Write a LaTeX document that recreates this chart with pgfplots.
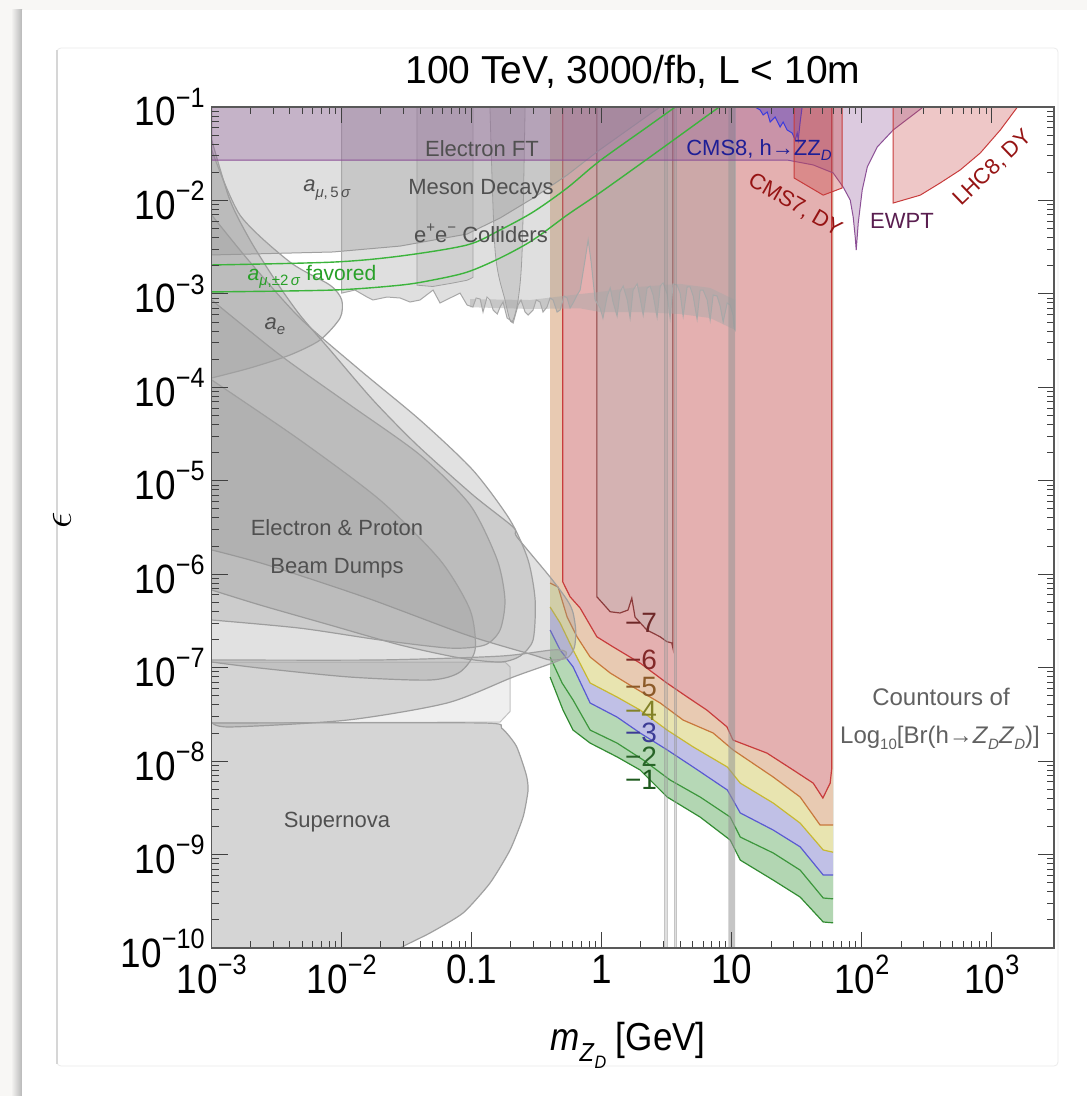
\documentclass[border=0pt]{standalone}
\usepackage{pgfplots}
\usepackage{pgfplotstable}
\pgfplotsset{compat=1.18}
\usepackage{fontspec}
\setmainfont{Liberation Sans}
\newfontfamily\tickfont[FakeStretch=0.9]{Liberation Sans}

\definecolor{bgc}{RGB}{248,247,245}
\definecolor{exgray}{RGB}{150,150,150}
\definecolor{exline}{RGB}{160,160,160}
\definecolor{noisec}{RGB}{168,168,168}
\definecolor{c1fill}{RGB}{178,214,178}
\definecolor{c1line}{RGB}{50,140,50}
\definecolor{c2fill}{RGB}{182,216,182}
\definecolor{c2line}{RGB}{60,150,60}
\definecolor{c3fill}{RGB}{192,192,230}
\definecolor{c3line}{RGB}{90,90,210}
\definecolor{c4fill}{RGB}{232,228,176}
\definecolor{c4line}{RGB}{200,185,50}
\definecolor{c5fill}{RGB}{232,202,178}
\definecolor{c5line}{RGB}{200,120,60}
\definecolor{c6fill}{RGB}{228,176,176}
\definecolor{c6line}{RGB}{200,60,60}
\definecolor{c7fill}{RGB}{212,178,178}
\definecolor{c7line}{RGB}{140,60,60}
\definecolor{ewpt}{RGB}{140,80,150}
\definecolor{cmsfill}{RGB}{100,80,200}
\definecolor{cmsblue}{RGB}{60,60,220}
\definecolor{dyfill}{RGB}{200,70,70}
\definecolor{amugreen}{RGB}{60,180,60}
\definecolor{labgray}{RGB}{80,80,80}
\definecolor{amutext}{RGB}{40,160,40}
\definecolor{cmstext}{RGB}{30,30,150}
\definecolor{dyred}{RGB}{150,20,20}
\definecolor{ewtext}{RGB}{90,30,80}

\newcommand\sups[1]{\raisebox{0.46em}{\fontsize{14}{14}\selectfont#1}}
\newcommand\supsm[1]{\raisebox{0.45em}{\fontsize{7.5}{8}\selectfont#1}}
\newcommand\subsm[1]{\raisebox{-0.25em}{\fontsize{7.5}{8}\selectfont#1}}

% contour lines Log10[Br] = -1 ... -5
\pgfplotstableread{
x y
0.400 7.94e-8
0.503 3.52e-8
0.601 2.15e-8
0.813 1.56e-8
1.31 1.11e-8
1.97 8.04e-9
3.18 4.13e-9
5.70 2.52e-9
9.71 1.43e-9
11.6 8.73e-10
20.8 5.33e-10
33.5 3.51e-10
50.4 1.90e-10
60 1.86e-10
}\cA
\pgfplotstableread{
x y
0.400 1.30e-7
0.495 6.86e-8
0.601 4.51e-8
0.813 2.15e-8
1.31 1.56e-8
2.08 1.03e-8
3.35 6.28e-9
5.70 4.13e-9
9.71 2.52e-9
11.6 1.54e-9
20.8 1.04e-9
33.5 6.82e-10
50.4 3.43e-10
60 3.36e-10
}\cB
\pgfplotstableread{
x y
0.400 2.53e-7
0.478 1.55e-7
0.601 1.02e-7
0.813 4.19e-8
1.31 2.96e-8
1.97 2.00e-8
3.18 1.32e-8
5.04 8.65e-9
9.23 4.91e-9
11.6 2.79e-9
20.8 1.83e-9
33.5 1.21e-9
50.4 6.04e-10
60 6.04e-10
}\cC
\pgfplotstableread{
x y
0.400 4.46e-7
0.478 3.01e-7
0.601 1.55e-7
0.813 6.86e-8
1.31 4.85e-8
1.97 3.52e-8
3.18 2.15e-8
5.04 1.42e-8
9.23 8.65e-9
11.6 5.82e-9
20.8 3.56e-9
33.5 2.17e-9
50.4 1.12e-9
60 1.06e-9
}\cD
\pgfplotstableread{
x y
0.400 8.05e-7
0.461 7.30e-7
0.541 3.48e-7
0.646 2.13e-7
0.813 1.30e-7
1.16 8.77e-8
1.74 6.21e-8
2.81 4.19e-8
4.22 2.75e-8
7.18 2.00e-8
10.2 1.32e-8
20.8 6.76e-9
33.5 4.13e-9
47.7 2.07e-9
60 2.07e-9
}\cE

\begin{document}
\begin{tikzpicture}
\begin{scope}[x=0.5pt,y=-0.5pt]
\path[use as bounding box] (0,0) rectangle (1087,1096);
\fill[bgc] (0,0) rectangle (1087,1096);
\shade[left color=bgc, right color=black!28] (11,10) rectangle (22,1096);
\fill[white] (22,10) rectangle (1087,1096);
\draw[black!8, fill=white, rounded corners=2pt] (57,48) rectangle (1058,1066);
\draw[black!16, line width=0.7pt] (57,50) -- (57,1064);
\end{scope}

\begin{axis}[
  at={(105.85pt,-474pt)}, anchor=south west,
  scale only axis, width=421.15pt, height=420.5pt,
  xmode=log, ymode=log,
  xmin=1e-3, xmax=3000, ymin=1e-10, ymax=0.1,
  xtickten={-3,-2,-1,0,1,2,3},
  ytickten={-10,-9,-8,-7,-6,-5,-4,-3,-2,-1},
  xticklabels={10\sups{−3},10\sups{−2},0.1,1,10,10\sups{2},10\sups{3}},
  yticklabels={10\sups{−10},10\sups{−9},10\sups{−8},10\sups{−7},10\sups{−6},10\sups{−5},10\sups{−4},10\sups{−3},10\sups{−2},10\sups{−1}},
  axis on top,
  axis line style={black!65, line width=0.6pt},
  tick style={black!75, line width=0.5pt},
  major tick length=8pt, minor tick length=3.5pt,
  tick label style={font=\tickfont\fontsize{20.5}{24}\selectfont, text=black},
]
% ---- contour bands (area above each contour)
\addplot[fill=c1fill, draw=none] coordinates {(0.4,0.1)
(0.400,7.94e-8) (0.503,3.52e-8) (0.601,2.15e-8) (0.813,1.56e-8) (1.31,1.11e-8) (1.97,8.04e-9)
(3.18,4.13e-9) (5.70,2.52e-9) (9.71,1.43e-9) (11.6,8.73e-10) (20.8,5.33e-10) (33.5,3.51e-10)
(50.4,1.90e-10) (60,1.86e-10) (60,0.1)};
\addplot[fill=c2fill, draw=none] coordinates {(0.4,0.1)
(0.400,1.30e-7) (0.495,6.86e-8) (0.601,4.51e-8) (0.813,2.15e-8) (1.31,1.56e-8) (2.08,1.03e-8)
(3.35,6.28e-9) (5.70,4.13e-9) (9.71,2.52e-9) (11.6,1.54e-9) (20.8,1.04e-9) (33.5,6.82e-10)
(50.4,3.43e-10) (60,3.36e-10) (60,0.1)};
\addplot[fill=c3fill, draw=none] coordinates {(0.4,0.1)
(0.400,2.53e-7) (0.478,1.55e-7) (0.601,1.02e-7) (0.813,4.19e-8) (1.31,2.96e-8) (1.97,2.00e-8)
(3.18,1.32e-8) (5.04,8.65e-9) (9.23,4.91e-9) (11.6,2.79e-9) (20.8,1.83e-9) (33.5,1.21e-9)
(50.4,6.04e-10) (60,6.04e-10) (60,0.1)};
\addplot[fill=c4fill, draw=none] coordinates {(0.4,0.1)
(0.400,4.46e-7) (0.478,3.01e-7) (0.601,1.55e-7) (0.813,6.86e-8) (1.31,4.85e-8) (1.97,3.52e-8)
(3.18,2.15e-8) (5.04,1.42e-8) (9.23,8.65e-9) (11.6,5.82e-9) (20.8,3.56e-9) (33.5,2.17e-9)
(50.4,1.12e-9) (60,1.06e-9) (60,0.1)};
\addplot[fill=c5fill, draw=none] coordinates {(0.4,0.1)
(0.400,8.05e-7) (0.461,7.30e-7) (0.541,3.48e-7) (0.646,2.13e-7) (0.813,1.30e-7) (1.16,8.77e-8)
(1.74,6.21e-8) (2.81,4.19e-8) (4.22,2.75e-8) (7.18,2.00e-8) (10.2,1.32e-8) (20.8,6.76e-9)
(33.5,4.13e-9) (47.7,2.07e-9) (60,2.07e-9) (60,0.1)};
\addplot[c1line, line width=0.6pt] table {\cA};
\addplot[c2line, line width=0.6pt] table {\cB};
\addplot[c3line, line width=0.6pt] table {\cC};
\addplot[c4line, line width=0.6pt] table {\cD};
\addplot[c5line, line width=0.6pt] table {\cE};
% -6 contour
\addplot[fill=c6fill, draw=c6line, line width=0.6pt] coordinates {
(0.5,0.1) (0.5,8.32e-7) (0.570,5.74e-7) (0.681,4.35e-7) (0.916,2.14e-7) (1.22,1.67e-7)
(1.97,1.12e-7) (3.16,6.86e-8) (4.51,4.89e-8) (6.42,3.52e-8) (9.16,2.33e-8) (10.2,1.68e-8)
(18.6,1.22e-8) (29.6,8.04e-9) (42.2,5.82e-9) (50.1,4.03e-9) (57.0,5.82e-9) (58.7,8.5e-9) (58.7,0.1)};
% -7 contour
\addplot[fill=c7fill, draw=c7line, line width=0.6pt] coordinates {
(0.916,0.1) (0.916,5.74e-7) (1.16,3.97e-7) (1.38,3.85e-7) (1.59,4.14e-7) (1.70,5.56e-7)
(1.80,3.48e-7) (2.22,2.53e-7) (2.81,2.14e-7) (3.16,1.90e-7) (3.45,1.84e-7) (3.52,1.62e-7) (3.52,0.1)};

% ---- a_mu 5 sigma
\addplot[fill=exgray, fill opacity=0.3, draw=exline, line width=0.5pt] coordinates {
(1e-3,0.1) (1e-3,2.61e-3) (8.57e-3,2.81e-3) (0.0281,3.25e-3) (0.092,4.37e-3) (0.165,6.49e-3)
(0.296,0.0106) (0.541,0.0187) (0.96,0.0347) (2.35,0.0842) (2.81,0.1)};
% ---- meson decays / e+e- colliders
\addplot[fill=exgray, fill opacity=0.3, draw=noisec, line width=0.5pt] coordinates {
(0.01,0.1) (0.01,1.02e-3) (0.01265,1.10e-3) (0.01566,9.26e-4) (0.0174,8.61e-4) (0.0223,9.26e-4)
(0.0281,9.04e-4) (0.0335,8.19e-4) (0.04,8.61e-4) (0.0504,1.10e-3) (0.057,7.99e-4) (0.0681,9.04e-4)
(0.0813,1.02e-3) (0.092,7.61e-4) (0.102,7.24e-4) (0.108,9.04e-4) (0.116,8.82e-4) (0.122,6.40e-4)
(0.131,9.26e-4) (0.138,8.61e-4) (0.146,6.73e-4) (0.157,6.09e-4) (0.165,7.24e-4) (0.174,8.19e-4)
(0.187,5.52e-4) (0.197,5.26e-4) (0.208,4.88e-4) (0.227,7.61e-4) (0.239,8.61e-4) (0.257,6.40e-4)
(0.271,5.94e-4) (0.296,6.73e-4) (0.313,8.61e-4) (0.335,8.19e-4) (0.353,6.40e-4) (0.379,7.24e-4)
(0.400,9.04e-4) (0.422,8.61e-4) (0.453,6.40e-4) (0.478,6.73e-4) (0.513,9.49e-4) (0.541,9.04e-4)
(0.570,7.07e-4) (0.601,7.99e-4) (0.646,9.73e-4) (0.681,1.10e-3) (0.743,2.31e-3) (0.785,3.78e-3)
(0.828,2.19e-3) (0.888,8.61e-4) (0.970,7.07e-4) (1.02,5.52e-4) (1.10,9.49e-4) (1.16,1.16e-3)
(1.22,8.19e-4) (1.31,5.80e-4) (1.38,1.05e-3) (1.46,1.21e-3) (1.57,8.61e-4) (1.65,5.52e-4)
(1.74,1.10e-3) (1.87,1.28e-3) (1.97,9.04e-4) (2.08,5.94e-4) (2.23,1.16e-3) (2.35,1.21e-3)
(2.48,9.73e-4) (2.66,5.66e-4) (2.81,1.21e-3) (2.96,1.31e-3) (3.18,1.0e-3) (3.35,5.52e-4)
(3.53,1.28e-3) (3.79,1.24e-3) (4.0,1.02e-3) (4.22,5.80e-4) (4.53,1.19e-3) (4.77,1.19e-3)
(5.04,9.49e-4) (5.40,5.39e-4) (5.70,1.10e-3) (6.01,1.10e-3) (6.46,8.61e-4) (6.81,5.26e-4)
(7.18,9.73e-4) (7.70,9.49e-4) (8.13,7.42e-4) (8.57,5.01e-4) (9.20,7.99e-4) (9.71,7.61e-4)
(10.2,5.94e-4) (10.4,4.32e-4) (10.6,4.11e-4) (10.6,0.1)};
% dense resonance-search noise band
\addplot[fill=noisec, fill opacity=0.45, draw=none] coordinates {
(0.0971,8.8e-4) (0.281,8.6e-4) (0.681,9.97e-4) (0.970,1.05e-3) (1.97,1.19e-3) (4.0,1.28e-3)
(6.81,1.16e-3) (10.6,8.61e-4) (10.6,4.11e-4) (6.81,5.52e-4) (4.0,6.09e-4) (1.97,6.40e-4)
(0.970,6.40e-4) (0.681,7.0e-4) (0.281,6.9e-4) (0.0971,7.2e-4) (0.0971,8.8e-4)};
\addplot[fill=exgray, fill opacity=0.2, draw=exline, line width=0.4pt] coordinates {
(0.0379,0.1) (0.0379,1.24e-3) (0.05,1.2e-3) (0.07,1.3e-3) (0.092,1.4e-3) (0.102,1.5e-3) (0.102,0.1)};
\addplot[fill=exgray, fill opacity=0.25, draw=exline, line width=0.4pt, smooth, tension=0.5] coordinates {
(0.138,0.1) (0.151,2.95e-3) (0.180,8.61e-4) (0.202,5.0e-4) (0.227,8.61e-4) (0.244,2.95e-3) (0.257,0.1)};

% ---- beam dumps, a_e
\addplot[fill=exgray, fill opacity=0.28, draw=exline, line width=0.6pt, smooth, tension=0.45] coordinates {
(1e-3,0.0444) (1.38e-3,0.0101) (1.97e-3,3.78e-3) (3.07e-3,1.41e-3) (4.77e-3,5.94e-4) (8.13e-3,2.51e-4)
(0.0174,7.31e-5) (0.0379,2.42e-5) (0.102,7.05e-6) (0.208,3.20e-6) (0.223,2.50e-6) (0.400,9.34e-7)
(0.541,5.30e-7) (0.600,3.9e-7) (0.630,2.5e-7) (0.615,1.65e-7) (0.541,1.27e-7) (0.400,1.21e-7)
(0.296,1.37e-7) (0.0920,2.23e-7) (0.0157,5.56e-7) (2.66e-3,1.26e-6) (1e-3,1.82e-6)};
\addplot[fill=exgray, fill opacity=0.28, draw=exline, line width=0.6pt, smooth, tension=0.45] coordinates {
(1e-3,6.98e-3) (1.97e-3,2.19e-3) (4.77e-3,5.52e-4) (0.0138,1.53e-4) (0.0400,4.47e-5) (0.102,1.30e-5)
(0.197,3.80e-6) (0.271,1.42e-6) (0.307,5.30e-7) (0.296,1.98e-7) (0.235,1.33e-7) (0.165,1.15e-7)
(0.0813,1.27e-7) (0.0281,1.75e-7) (8.13e-3,2.86e-7) (2.36e-3,4.68e-7) (1e-3,6.78e-7)};
\addplot[fill=exgray, fill opacity=0.28, draw=exline, line width=0.6pt, smooth, tension=0.45] coordinates {
(1e-3,8.61e-4) (3.35e-3,2.22e-4) (0.0116,6.47e-5) (0.0400,1.89e-5) (0.0971,5.50e-6) (0.157,1.42e-6)
(0.180,5.30e-7) (0.165,2.53e-7) (0.126,1.75e-7) (0.0681,1.62e-7) (0.0197,1.98e-7) (4.77e-3,2.65e-7)
(1e-3,3.24e-7)};
\addplot[fill=exgray, fill opacity=0.28, draw=exline, line width=0.6pt, smooth, tension=0.45] coordinates {
(1e-3,1.20e-4) (4.77e-3,2.73e-5) (0.0197,6.22e-6) (0.0570,1.42e-6) (0.0971,4.14e-7) (0.106,1.55e-7)
(0.0813,9.0e-8) (0.0478,7.38e-8) (0.0116,7.94e-8) (2.36e-3,9.9e-8) (1e-3,1.15e-7)};
\addplot[fill=exgray, fill opacity=0.28, draw=exline, line width=0.6pt, smooth, tension=0.45] coordinates {
(1e-3,0.0347) (1.65e-3,6.98e-3) (4.00e-3,2.19e-3) (8.13e-3,1.24e-3) (0.0100,8.61e-4) (9.71e-3,5.52e-4)
(6.81e-3,3.21e-4) (4.00e-3,2.22e-4) (1.97e-3,1.61e-4) (1e-3,1.26e-4)};
\addplot[fill=exgray, fill opacity=0.3, draw=exline, line width=0.6pt, smooth, tension=0.45] coordinates {
(1e-3,1.21e-7) (0.0197,1.21e-7) (0.165,1.33e-7) (0.422,1.55e-7) (0.531,1.47e-7) (0.478,1.21e-7)
(0.208,7.94e-8) (0.0646,4.19e-8) (0.0110,2.75e-8) (1.38e-3,2.32e-8) (1e-3,2.62e-8)};
\addplot[fill=exgray, fill opacity=0.15, draw=exline, draw opacity=0.6, line width=0.5pt] coordinates {
(1e-3,1.15e-7) (0.180,1.15e-7) (0.197,1.02e-7) (0.197,3.40e-8) (0.165,2.62e-8) (1e-3,2.56e-8)};
% supernova
\addplot[fill=exgray, fill opacity=0.4, draw=exline, line width=0.6pt, smooth, tension=0.35] coordinates {
(1e-3,2.56e-8) (0.120,2.56e-8) (0.170,2.25e-8) (0.220,1.45e-8) (0.262,7.2e-9) (0.271,4.91e-9) (0.248,2.52e-9)
(0.197,1.12e-9) (0.138,4.95e-10) (0.0857,2.37e-10) (0.0478,1.45e-10) (0.0281,1e-10) (0.012,5e-11) (1e-3,5e-11)};

% ---- J/psi, psi(2S), Upsilon vetoes
\addplot[fill=exgray, fill opacity=0.3, draw=exgray, draw opacity=0.5, line width=0.3pt] coordinates {
(3.04,1e-10) (3.16,1e-10) (3.16,0.1) (3.04,0.1) (3.04,1e-10)};
\addplot[fill=exgray, fill opacity=0.3, draw=exgray, draw opacity=0.5, line width=0.3pt] coordinates {
(3.63,1e-10) (3.75,1e-10) (3.75,0.1) (3.63,0.1) (3.63,1e-10)};
\addplot[fill=exgray, fill opacity=0.55, draw=none] coordinates {
(9.4,1e-10) (10.6,1e-10) (10.6,0.1) (9.4,0.1) (9.4,1e-10)};

% ---- electron FT / EWPT
\addplot[fill=ewpt, fill opacity=0.3, draw=ewpt, line width=0.5pt] coordinates {
(1e-3,0.1) (1e-3,0.0271) (26.6,0.0271) (42.2,0.0240) (60.1,0.0197) (71.8,0.0139) (81.3,0.0101)
(85.7,6.65e-3) (88.8,4.07e-3) (90.4,2.95e-3) (93.7,5.74e-3) (100.5,0.0129) (110,0.0228)
(131,0.0373) (174,0.0568) (235,0.0782) (296,0.1)};
% ---- CMS8 h -> Z Z_D
\addplot[fill=cmsfill, fill opacity=0.45, draw=cmsblue, line width=0.5pt] coordinates {
(15.1,0.1) (16.5,0.0929) (17.4,0.0821) (18.7,0.0884) (19.7,0.0691) (21.5,0.0782) (23.5,0.0611)
(24.8,0.0691) (26.6,0.0568) (29.1,0.0527) (30.7,0.0444) (31.8,0.0527) (32.4,0.0444) (33.5,0.0691) (34.7,0.1)};
% ---- CMS7 DY
\addplot[fill=dyfill, fill opacity=0.35, draw=c6line, line width=0.5pt] coordinates {
(30.1,0.1) (30.1,0.0174) (50.4,0.0114) (70.5,0.0136) (70.5,0.1)};
% ---- LHC8 DY
\addplot[fill=dyfill, fill opacity=0.3, draw=c6line, line width=0.5pt] coordinates {
(174,0.1) (174,9.39e-3) (281,0.0114) (400,0.0154) (570,0.0212) (813,0.0322) (1160,0.0568) (1570,0.1)};

% ---- a_mu favoured band
\addplot[amugreen, line width=0.7pt, smooth] coordinates {
(1e-3,2.04e-3) (8.57e-3,2.19e-3) (0.0281,2.54e-3) (0.092,3.34e-3) (0.165,4.83e-3) (0.296,7.52e-3)
(0.541,0.0136) (0.96,0.0264) (2.35,0.0642) (3.67,0.1)};
\addplot[amugreen, line width=0.7pt, smooth] coordinates {
(1e-3,1.05e-3) (8.57e-3,1.10e-3) (0.0281,1.24e-3) (0.0504,1.41e-3) (0.092,1.71e-3) (0.165,2.42e-3)
(0.296,3.78e-3) (0.541,6.98e-3) (0.96,0.0120) (2.35,0.0292) (7.99,0.1)};
\end{axis}

\begin{scope}[x=0.5pt,y=-0.5pt,
  lab/.style={font=\fontsize{11}{13}\selectfont, text=labgray},
  lab2/.style={font=\fontsize{12}{14}\selectfont, text=labgray!90},
  cl/.style={font=\fontsize{14}{16}\selectfont}]
\node[font=\fontsize{19.5}{22}\selectfont] at (633,72) {100 TeV, 3000/fb, L < 10m};
\node[font=\tickfont\fontsize{19.5}{22}\selectfont] at (628,1045)
  {\textit{m}\raisebox{-0.3em}{\fontsize{13}{13}\selectfont\textit{Z}\raisebox{-0.25em}{\fontsize{9}{9}\selectfont\textit{D}}} [GeV]};
\node[rotate=90, font=\fontsize{22}{24}\selectfont] at (62,520) {$\epsilon$};

\node[lab] at (482,149) {Electron FT};
\node[lab] at (481,189) {Meson Decays};
\node[lab] at (481,233) {e\supsm{+}e\supsm{−} Colliders};
\node[lab] at (327,190) {\textit{a}\subsm{\textit{μ},\,5\,\textit{σ}}};
\node[lab, font=\fontsize{10.5}{12}\selectfont, text=amutext] at (312,277) {\textit{a}\subsm{\textit{μ},±2\,\textit{σ}} favored};
\node[lab] at (275,326) {\textit{a}\subsm{\textit{e}}};
\node[lab] at (337,528) {Electron \& Proton};
\node[lab] at (337,568) {Beam Dumps};
\node[lab] at (337,822) {Supernova};
\node[lab, text=cmstext] at (759,150) {CMS8, h→ZZ\subsm{\textit{D}}};
\node[lab, text=dyred, rotate=-30] at (795,205) {CMS7, DY};
\node[lab, text=ewtext] at (902,221) {EWPT};
\node[lab, text=dyred, rotate=44] at (993,168) {LHC8, DY};
\node[lab2] at (941,697) {Countours of};
\node[lab2] at (940,738) {Log\subsm{10}[Br(h→\textit{Z}\subsm{\textit{D}}\textit{Z}\subsm{\textit{D}})]};

\node[cl, text={rgb,255:red,110;green,40;blue,40}] at (641,623) {−7};
\node[cl, text={rgb,255:red,130;green,40;blue,40}] at (641,660) {−6};
\node[cl, text={rgb,255:red,140;green,90;blue,40}] at (641,687) {−5};
\node[cl, text={rgb,255:red,130;green,130;blue,40}] at (641,711) {−4};
\node[cl, text={rgb,255:red,60;green,60;blue,150}] at (641,733) {−3};
\node[cl, text={rgb,255:red,40;green,100;blue,40}] at (641,757) {−2};
\node[cl, text={rgb,255:red,30;green,90;blue,30}] at (641,780) {−1};
\end{scope}
\end{tikzpicture}
\end{document}
